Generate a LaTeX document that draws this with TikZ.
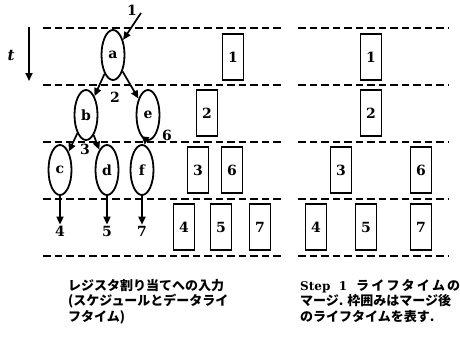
\documentclass[tikz,border=0pt]{standalone}
\usepackage{fontspec}
\setmainfont{DejaVu Serif}
\newfontfamily\cjk{Noto Sans CJK JP}
\usetikzlibrary{shapes.geometric,arrows.meta}
\begin{document}
\begin{tikzpicture}[x=1pt,y=-1pt,
  dl/.style={line width=2pt, dash pattern=on 7.5pt off 4pt},
  lt/.style={draw, ellipse, line width=1.8pt, minimum width=23pt, minimum height=50pt, inner sep=0pt, font=\bfseries\fontsize{14}{14}\selectfont},
  reg/.style={draw, rectangle, line width=1.7pt, minimum width=21pt, minimum height=46pt, inner sep=0pt, font=\bfseries\fontsize{14}{14}\selectfont},
  ar/.style={line width=1.7pt, -{Triangle[length=8pt,width=7pt]}},
  lab/.style={font=\bfseries\fontsize{14}{14}\selectfont, inner sep=1pt},
  capt/.style={anchor=north west, align=left, inner sep=0pt, font=\bfseries\fontsize{13}{15.5}\selectfont}
]
\useasboundingbox (0,0) rectangle (460,353);
% dashed time lines
\foreach \y in {28,85,142,199,256}{
  \draw[dl] (43,\y) -- (281,\y);
  \draw[dl] (298,\y) -- (449,\y);
}
% time arrow
\coordinate (t0) at (29,27);
\coordinate (t1) at (29,81);
\draw[ar] (t0) -- (t1);
\node[lab, font=\bfseries\itshape\fontsize{15}{15}\selectfont] (tl) at (11,56) {t};
% lifetimes
\node[lt] (a) at (113,55) {a};
\node[lt] (b) at (86,115) {b};
\node[lt] (e) at (148,115) {e};
\node[lt] (c) at (60,170) {c};
\node[lt] (d) at (107,170) {d};
\node[lt] (f) at (142,170) {f};
\coordinate (in1) at (141,13);
\node[lab] (l1) at (132,10) {1};
\draw[ar] (in1) -- (a);
\draw[ar] (a) -- (b);
\draw[ar] (a) -- (e);
\node[lab] (l2) at (115,97) {2};
\draw[ar] (b) -- (c);
\draw[ar] (b) -- (d);
\node[lab] (l3) at (85,149) {3};
\draw[ar] (e) -- (f);
\node[lab] (l6) at (167,135) {6};
\node[lab] (l4) at (60,231) {4};
\node[lab] (l5) at (107,231) {5};
\node[lab] (l7) at (142,231) {7};
\draw[ar] (c) -- (l4);
\draw[ar] (d) -- (l5);
\draw[ar] (f) -- (l7);
% left register boxes
\node[reg] (L1) at (233,57) {1};
\node[reg] (L2) at (207,113) {2};
\node[reg] (L3) at (198,170) {3};
\node[reg] (L6) at (232,170) {6};
\node[reg] (L4) at (184,227) {4};
\node[reg] (L5) at (221,227) {5};
\node[reg] (L7) at (260,227) {7};
% right register boxes
\node[reg] (R1) at (371,57) {1};
\node[reg] (R2) at (371,113) {2};
\node[reg] (R3) at (341,170) {3};
\node[reg] (R6) at (421,170) {6};
\node[reg] (R4) at (316,227) {4};
\node[reg] (R5) at (366,227) {5};
\node[reg] (R7) at (421,227) {7};
% captions
\node[capt] (capL) at (68,279) {\cjk\bfseries レジスタ割り当てへの入力\\ \cjk\bfseries (スケジュールとデータライ\\ \cjk\bfseries フタイム)};
\node[capt] (capR) at (300,279) {{\fontsize{12}{15.5}\selectfont Step\ \ 1}\ \ {\cjk\bfseries ラ\,イ\,フ\,タ\,イ\,ム\,の}\\ \cjk\bfseries マージ. 枠囲みはマージ後\\ \cjk\bfseries のライフタイムを表す.};
\end{tikzpicture}
\end{document}
